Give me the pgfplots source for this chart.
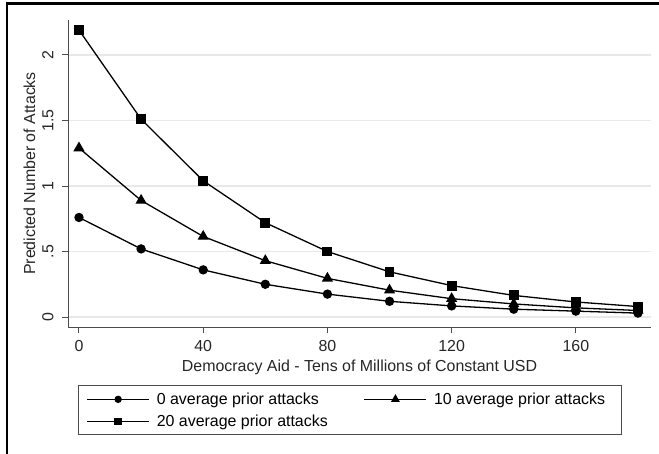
\documentclass[border=0pt]{standalone}
\usepackage{pgfplots}
\pgfplotsset{compat=1.18}
\usepackage{fontspec}
\setmainfont{Liberation Sans}
\begin{document}
\begin{tikzpicture}
\path[use as bounding box] (0,0) rectangle (659bp,454bp);
\draw[line width=2.5bp, black] (7bp,0) -- (7bp,450.5bp) -- (659bp,450.5bp);
\begin{axis}[
  at={(68bp,127bp)}, anchor=south west,
  width=583bp, height=307bp, scale only axis,
  xmin=-3.54, xmax=184.2, ymin=-0.076, ymax=2.267,
  axis x line*=bottom, axis y line*=left,
  axis line style={black!70, line width=1bp},
  xtick={0,40,80,120,160},
  ytick={0,0.5,1,1.5,2}, yticklabels={0,.5,1,1.5,2},
  tick align=outside, major tick length=6bp,
  tick style={black!70, line width=1bp},
  ymajorgrids, grid style={black!9, line width=1.2bp},
  /pgf/number format/assume math mode=true,
  tick label style={font=\fontsize{16}{18}\selectfont, black!85},
  yticklabel style={rotate=90, anchor=south, yshift=5bp},
  xticklabel style={yshift=-4bp},
  xlabel={Democracy Aid - Tens of Millions of Constant USD},
  ylabel={Predicted Number of Attacks},
  every axis x label/.style={at={(axis description cs:0.5,-0.13)}, anchor=center, font=\fontsize{16}{18}\selectfont, black!85},
  every axis y label/.style={at={(axis description cs:-0.066,0.5)}, anchor=center, rotate=90, font=\fontsize{16}{18}\selectfont, black!85},
  legend columns=2,
  legend style={at={(axis description cs:0.01715,-0.19)}, anchor=north west,
    draw=black!70, line width=1bp, font=\fontsize{16}{18}\selectfont,
    inner xsep=8bp, inner ysep=5bp, row sep=5bp,
    /tikz/every odd column/.append style={column sep=5bp}},
  legend cell align=left,
  legend image code/.code={\draw[mark repeat=2, mark phase=2, #1, every mark/.append style={scale=0.75}] plot coordinates {(0bp,0bp) (31bp,0bp) (62bp,0bp)};},
]
\addplot[black, line width=1.3bp, mark=*, mark size=4bp] coordinates {
(0,0.76) (20,0.52) (40,0.36) (60,0.25) (80,0.175) (100,0.12) (120,0.085) (140,0.06) (160,0.045) (180,0.03)};
\addlegendentry{\makebox[205bp][l]{0 average prior attacks}}
\addplot[black, line width=1.3bp, mark=triangle*, mark size=5.2bp] coordinates {
(0,1.29) (20,0.89) (40,0.615) (60,0.43) (80,0.295) (100,0.205) (120,0.14) (140,0.10) (160,0.07) (180,0.05)};
\addlegendentry{\makebox[177bp][l]{10 average prior attacks}}
\addplot[black, line width=1.3bp, mark=square*, mark size=4.3bp] coordinates {
(0,2.19) (20,1.51) (40,1.04) (60,0.72) (80,0.50) (100,0.345) (120,0.24) (140,0.165) (160,0.115) (180,0.08)};
\addlegendentry{\makebox[205bp][l]{20 average prior attacks}}
\end{axis}
\end{tikzpicture}
\end{document}
